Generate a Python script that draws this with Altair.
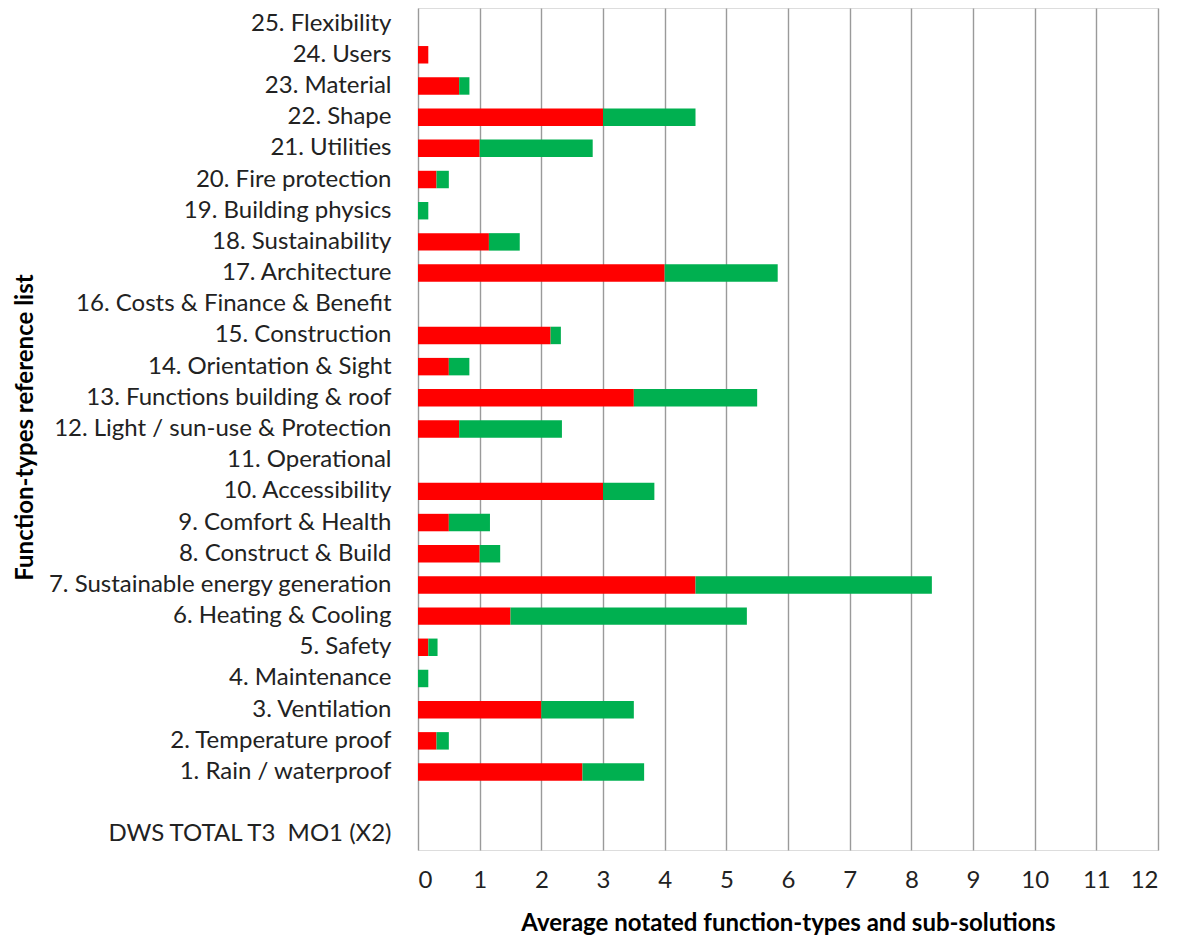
import altair as alt
import pandas as pd

# Function-type categories, listed top to bottom as drawn on the y axis
categories = [
    "25. Flexibility", "24. Users", "23. Material", "22. Shape", "21. Utilities",
    "20. Fire protection", "19. Building physics", "18. Sustainability",
    "17. Architecture", "16. Costs & Finance & Benefit", "15. Construction",
    "14. Orientation & Sight", "13. Functions building & roof",
    "12. Light / sun-use & Protection", "11. Operational", "10. Accessibility",
    "9. Comfort & Health", "8. Construct & Build", "7. Sustainable energy generation",
    "6. Heating & Cooling", "5. Safety", "4. Maintenance", "3. Ventilation",
    "2. Temperature proof", "1. Rain / waterproof", " ", "DWS TOTAL T3\u00a0 MO1 (X2)",
]

# Average notated function-types (red segment)
function_types = [
    0, 0.167, 0.667, 3.0, 1.0,
    0.3, 0, 1.15,
    4.0, 0, 2.15,
    0.5, 3.5,
    0.667, 0, 3.0,
    0.5, 1.0, 4.5,
    1.5, 0.167, 0, 2.0,
    0.3, 2.667, 0, 0,
]

# Average notated sub-solutions (green segment, stacked after red)
sub_solutions = [
    0, 0, 0.167, 1.5, 1.833,
    0.2, 0.167, 0.5,
    1.833, 0, 0.167,
    0.333, 2.0,
    1.667, 0, 0.833,
    0.667, 0.333, 3.833,
    3.833, 0.15, 0.167, 1.5,
    0.2, 1.0, 0, 0,
]

series_names = ["Function-types", "Sub-solutions"]
series_colors = ["#FF0000", "#00B050"]
x_ticks = list(range(0, 13))

rows = []
for cat, ft, ss in zip(categories, function_types, sub_solutions):
    rows.append({"category": cat, "series": series_names[0], "value": ft, "rank": 0})
    rows.append({"category": cat, "series": series_names[1], "value": ss, "rank": 1})
df = pd.DataFrame(rows)

font = "Lato"

chart = (
    alt.Chart(df)
    .mark_bar()
    .encode(
        y=alt.Y(
            "category:N",
            sort=categories,
            scale=alt.Scale(paddingInner=0.44, paddingOuter=0.22),
            axis=alt.Axis(
                title="Function-types reference list",
                titleFont=font,
                titleFontSize=24,
                titleFontWeight="bold",
                titleColor="#000000",
                titleAngle=-90,
                titleX=-393,
                titleY=419,
                titleBaseline="middle",
                labelFont=font,
                labelFontSize=24,
                labelColor="#222222",
                labelPadding=27,
                labelLimit=420,
                ticks=False,
                domain=False,
                grid=False,
            ),
        ),
        x=alt.X(
            "value:Q",
            stack="zero",
            scale=alt.Scale(domain=[0, 12], nice=False),
            axis=alt.Axis(
                title="Average notated function-types and sub-solutions",
                titleFont=font,
                titleFontSize=24,
                titleFontWeight="bold",
                titleColor="#000000",
                titlePadding=19,
                values=x_ticks,
                format="d",
                labelFont=font,
                labelFontSize=24,
                labelColor="#222222",
                labelPadding=18,
                ticks=False,
                domain=False,
                grid=True,
                gridColor="#9a9a9a",
                gridWidth=1.4,
            ),
        ),
        color=alt.Color(
            "series:N",
            scale=alt.Scale(domain=series_names, range=series_colors),
            legend=None,
        ),
        order=alt.Order("rank:Q"),
    )
    .properties(
        width=740,
        height=842,
        autosize=alt.AutoSizeParams(type="none"),
        padding={"left": 418, "top": 8, "right": 22, "bottom": 89},
    )
    .configure_view(stroke=None)
    .configure(background="white")
)

chart.save("out.html", embed_options={"renderer": "svg", "actions": False})
